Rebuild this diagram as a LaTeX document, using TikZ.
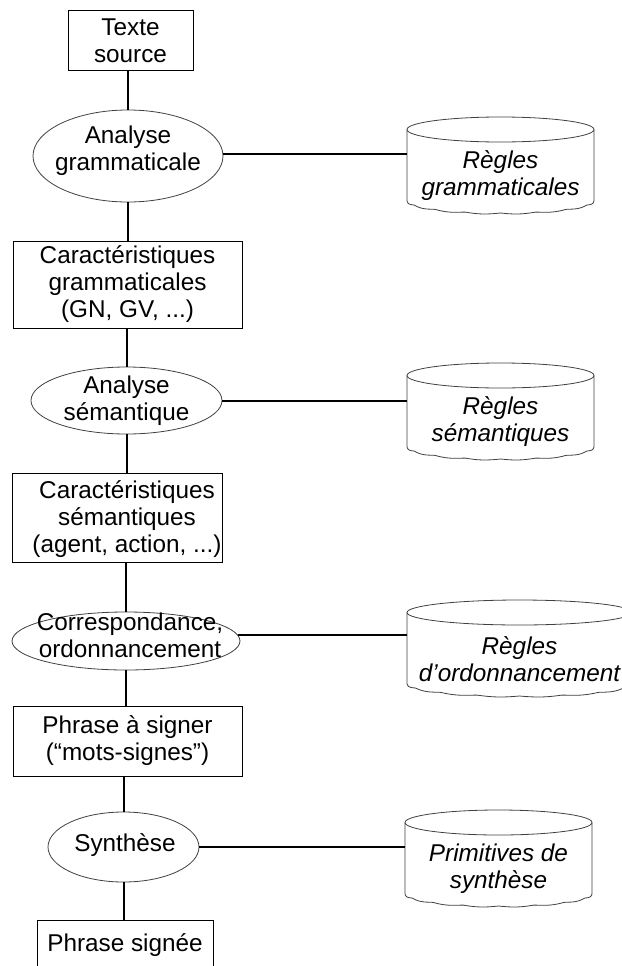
\documentclass[tikz,border=0pt]{standalone}
\usepackage{fontspec}
\setmainfont{Liberation Sans}
\usetikzlibrary{shapes.geometric,calc}

\tikzset{
  lbl/.style={font=\fontsize{24.3}{27}\selectfont, align=center, inner sep=0pt},
  box/.style={draw, line width=1pt, rectangle, inner sep=0pt, lbl},
  oval/.style={draw=black!75, line width=0.8pt, ellipse, inner sep=0pt},
  storetxt/.style={lbl, font=\fontsize{24.3}{27}\selectfont\itshape, minimum height=50},
  storeline/.style={draw=black!75, line width=0.8pt},
  link/.style={line width=2pt},
}

% data store: centre x, top y, width, node name, label
\newcommand\dbstore[5]{%
  \draw[storeline] (#1,#2+12.5) ellipse [x radius=#3/2, y radius=12.5];
  \draw[storeline] (#1-#3/2,#2+12.5) -- (#1-#3/2,#2+83)
    -- plot[domain=0:180, samples=91]
       ({#1-#3/2*cos(\x)}, {#2+83+13*sin(\x)+1.2*abs(sin(8*\x))})
    -- (#1+#3/2,#2+12.5);
  \node[storetxt, minimum width=#3] (#4) at (#1,#2+59) {#5};
}

\begin{document}
\begin{tikzpicture}[x=1pt, y=-1pt]
\useasboundingbox (0,0) rectangle (621,966);

% processing chain
\node[box, minimum width=125, minimum height=60] (ts) at (130.5,41) {Texte\\source};
\node[oval, minimum width=190, minimum height=92] (ag) at (128,156) {};
\node[lbl] (agt) at (128,151) {Analyse\\grammaticale};
\node[box, minimum width=229, minimum height=87] (cg) at (127.5,284.5)
  {Caractéristiques\\grammaticales\\(GN, GV, ...)};
\node[oval, minimum width=191, minimum height=67] (as) at (126.5,400.5) {};
\node[lbl] (ast) at (126.5,401) {Analyse\\sémantique};
\node[box, minimum width=210, minimum height=89] (cs) at (117,517.5) {};
\node[lbl] (cst) at (127,519) {Caractéristiques\\sémantiques\\(agent, action, ...)};
\node[oval, minimum width=228, minimum height=58] (co) at (126,641) {};
\node[lbl] (cot) at (130,635) {Correspondance,\\ordonnancement};
\node[box, minimum width=229, minimum height=70] (ps) at (127.5,741)
  {Phrase à signer\\(“mots-signes”)};
\node[oval, minimum width=151, minimum height=70] (sy) at (123.5,847) {};
\node[lbl] (syt) at (125,845) {Synthèse};
\node[box, minimum width=176, minimum height=50] (pf) at (125,945) {Phrase signée};

% rule bases
\dbstore{500.5}{117}{187}{c1}{Règles\\grammaticales}
\dbstore{500.5}{363}{187}{c2}{Règles\\sémantiques}
\dbstore{519.5}{600}{225}{c3}{Règles\\d’ordonnancement}
\dbstore{498.5}{810}{187}{c4}{Primitives de\\synthèse}

% vertical flow
\draw[link] (ag.north) -- (ag.north |- ts.south);
\draw[link] (ag.south) -- (ag.south |- cg.north);
\draw[link] (as.north) -- (as.north |- cg.south);
\draw[link] (as.south) -- (as.south |- cs.north);
\draw[link] (co.north) -- (co.north |- cs.south);
\draw[link] (co.south) -- (co.south |- ps.north);
\draw[link] (sy.north) -- (sy.north |- ps.south);
\draw[link] (sy.south) -- (sy.south |- pf.north);

% links to the rule bases
\draw[link] (ag.1) -- (ag.1 -| c1.west);
\draw[link] (as.east) -- (as.east -| c2.west);
\draw[link] (co.3) -- (co.3 -| c3.west);
\draw[link] (sy.east) -- (sy.east -| c4.west);
\end{tikzpicture}
\end{document}
